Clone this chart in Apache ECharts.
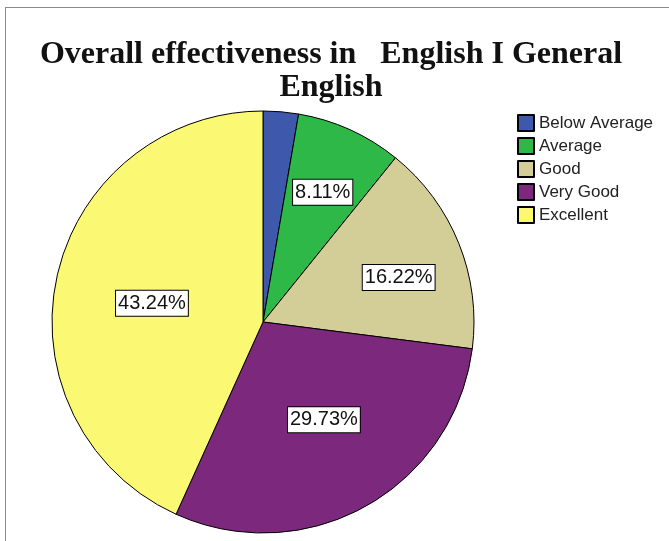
<!DOCTYPE html>
<html>
<head>
<meta charset="utf-8">
<script src="https://cdn.jsdelivr.net/npm/echarts@6/dist/echarts.min.js"></script>
<style>
html,body{margin:0;padding:0;background:#fff;}
#frame{position:absolute;left:5px;top:7px;width:700px;height:600px;border-left:1px solid #8a8a8a;border-top:1px solid #8a8a8a;}
#main{position:absolute;left:0;top:0;width:669px;height:541px;}
</style>
</head>
<body>
<div id="frame"></div>
<div id="main"></div>
<script>
// categories and percentages
var categories = ['Below Average', 'Average', 'Good', 'Very Good', 'Excellent'];
var percents = [2.70, 8.11, 16.22, 29.73, 43.24];
var colors = ['#3E58AC', '#2EB848', '#D3CE97', '#7C287D', '#FBF873'];
var showLabel = [false, true, true, true, true];

var pieData = [];
for (var i = 0; i < categories.length; i++) {
	pieData.push({
		name: categories[i],
		value: percents[i],
		itemStyle: {color: colors[i]},
		label: {show: showLabel[i]}
	});
}

// nudge the inside labels to where the original put them
var labelDx = [0, 15, 35, 8, -5];
var labelDy = [0, -31, -4, 3, 4];

var option = {
	animation: false,
	title: {
		text: 'Overall effectiveness in   English I General\nEnglish',
		left: 326,
		top: 33,
		textAlign: 'center',
		textStyle: {
			fontFamily: 'Liberation Serif',
			fontWeight: 'bold',
			fontSize: 32,
			lineHeight: 33,
			color: '#111'
		}
	},
	legend: {
		orient: 'vertical',
		left: 512,
		top: 109,
		itemWidth: 16,
		itemHeight: 16,
		itemGap: 5,
		icon: 'rect',
		selectedMode: false,
		textStyle: {fontFamily: 'Liberation Sans', fontSize: 17, color: '#222'},
		data: categories
	},
	series: [{
		type: 'pie',
		center: [263, 322],
		radius: 211,
		startAngle: 90,
		clockwise: true,
		data: pieData,
		itemStyle: {borderColor: '#000', borderWidth: 1},
		label: {
			position: 'inside',
			formatter: function(p){ return p.value.toFixed(2) + '%'; },
			fontFamily: 'Liberation Sans',
			fontSize: 20,
			color: '#111',
			backgroundColor: '#fff',
			borderColor: '#000',
			borderWidth: 1,
			padding: [3, 2, 2, 2]
		},
		labelLayout: function(params){
			var i = params.dataIndex;
			return {dx: labelDx[i], dy: labelDy[i]};
		},
		emphasis: {disabled: true}
	}]
};

var mychart = echarts.init(document.getElementById('main'));
mychart.setOption(option);
</script>
</body>
</html>
